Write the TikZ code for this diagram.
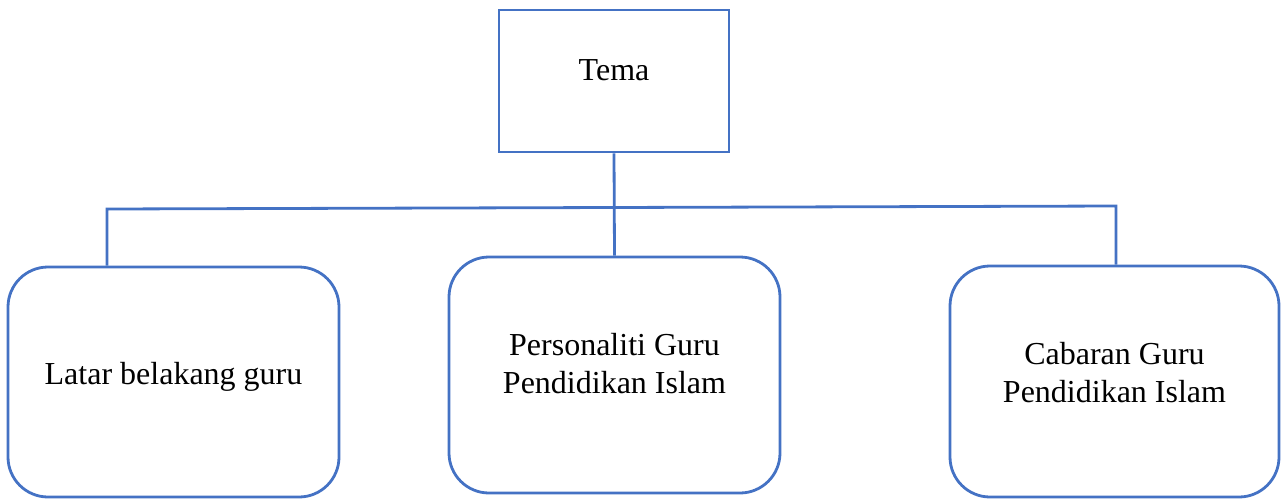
\documentclass[tikz,border=0pt]{standalone}
\usepackage{fontspec}
\setmainfont{Liberation Serif}
\usepackage{tikz}
\usetikzlibrary{positioning}
\definecolor{wordblue}{HTML}{4472C4}

\begin{document}
\begin{tikzpicture}[x=1pt,y=-1pt,line width=2.8pt,
    font=\fontsize{32}{38}\selectfont,
    boxed/.style={draw=wordblue,align=center,inner xsep=0pt,inner ysep=0pt},
    topic/.style={boxed,rounded corners=40pt,minimum width=331pt}]
  \useasboundingbox (0,0) rectangle (1282,499);
  \node[boxed,minimum width=230pt,text height=70pt,text depth=72pt] (tema) at (614,81) {Tema};
  \node[topic,text height=117pt,text depth=113pt] (latar) at (173.5,382) {Latar belakang guru};
  \node[topic,text height=136pt,text depth=100pt] (personaliti) at (614.5,375) {Personaliti Guru\\Pendidikan Islam};
  \node[topic,minimum width=329pt,text height=136pt,text depth=95pt] (cabaran) at (1114.5,381.5) {Cabaran Guru\\Pendidikan Islam};
  \coordinate (kiri) at (107,209);
  \coordinate (kanan) at (1116,206);
  \draw[wordblue] (tema.south) -- (personaliti.north);
  \draw[wordblue] (kiri |- latar.north) -- (kiri) -- (kanan) -- (kanan |- cabaran.north);
\end{tikzpicture}
\end{document}
